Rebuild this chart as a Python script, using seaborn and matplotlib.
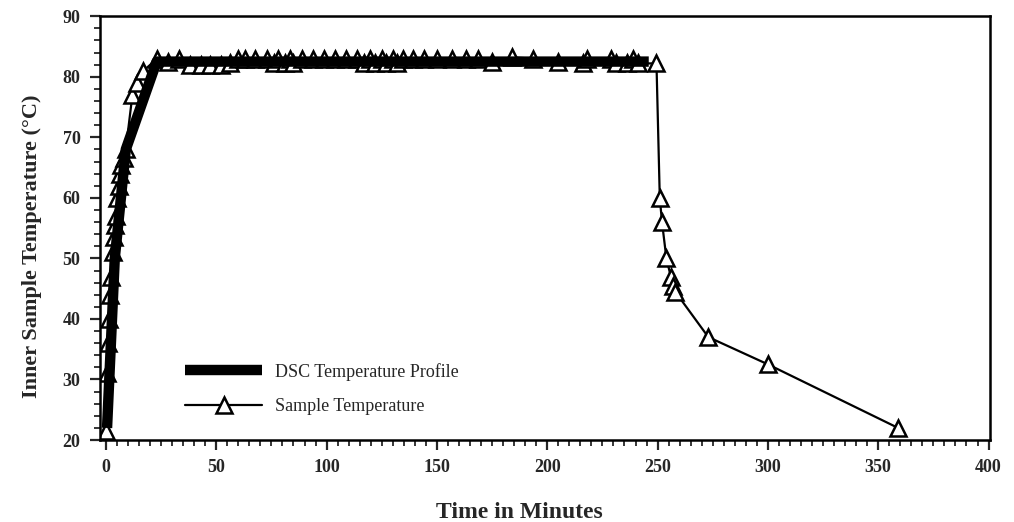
import matplotlib
matplotlib.use("Agg")
import matplotlib.pyplot as plt
import seaborn as sns
import pandas as pd
from matplotlib.ticker import MultipleLocator

# DSC temperature profile (thick line)
dsc_time = [0.5, 4, 9, 23, 246]
dsc_temp = [22, 50, 68, 82.5, 82.5]

# Sample temperature (triangles)
sample_time = [0, 0.5, 1, 1.5, 2, 2.5, 3, 3.5, 4, 4.5, 5, 6, 6.5, 7, 8, 9,
               12, 14, 17, 23, 28, 33, 38, 43, 47, 52, 56, 60, 63, 67.5,
               73, 76, 78, 81, 83.4, 85, 89, 94, 99, 104, 109, 114, 117,
               119.6, 122, 125, 127, 130, 132, 134.5, 139, 144, 150, 157,
               163, 168.5, 175, 184, 193.5, 205, 216, 218, 229, 231, 236,
               239, 241, 249.5,
               251, 252, 254, 256, 257, 258, 273, 300, 359]
sample_temp = [21.5, 31, 36, 40, 44, 47, 51, 53.5, 55.5, 57, 60, 62, 64, 65.5, 66.5, 68,
               77, 79, 81, 82.9, 82.5, 82.9, 81.9, 81.9, 81.9, 81.9, 82.3, 82.9, 82.9, 82.9,
               82.9, 82.2, 82.9, 82.2, 82.9, 82.2, 82.9, 82.9, 82.9, 82.9, 82.9, 82.9, 82.2,
               82.9, 82.2, 82.9, 82.2, 82.9, 82.2, 82.9, 82.9, 82.9, 82.9, 82.9,
               82.9, 82.9, 82.5, 83.2, 83.0, 82.5, 82.2, 82.9, 82.9, 82.2, 82.2,
               82.9, 82.2, 82.2,
               60, 56, 50, 47, 45.5, 44.5, 37, 32.5, 22]

x_ticks = [0, 50, 100, 150, 200, 250, 300, 350, 400]
y_ticks = [20, 30, 40, 50, 60, 70, 80, 90]

sns.set_style("ticks")
plt.rcParams['font.family'] = ['Liberation Serif', 'DejaVu Serif']

fig = plt.figure(figsize=(10.14, 5.22), dpi=100)
ax = fig.add_axes([0.0986, 0.157, 0.8774, 0.812])

dsc = pd.DataFrame({"t": dsc_time, "T": dsc_temp})
smp = pd.DataFrame({"t": sample_time, "T": sample_temp})

sns.lineplot(data=smp, x="t", y="T", ax=ax, color="black", lw=1.6,
             sort=False, estimator=None, marker="^", markersize=11,
             markerfacecolor="white", markeredgecolor="black",
             markeredgewidth=1.8, label="Sample Temperature", zorder=2)
sns.lineplot(data=dsc, x="t", y="T", ax=ax, color="black", lw=7.5,
             sort=False, estimator=None, label="DSC Temperature Profile",
             solid_capstyle="butt", zorder=3)

ax.set_xlim(-2.7, 400.5)
ax.set_ylim(20, 90)
ax.set_xticks(x_ticks)
ax.set_yticks(y_ticks)
ax.xaxis.set_minor_locator(MultipleLocator(5))
ax.yaxis.set_minor_locator(MultipleLocator(2))
ax.tick_params(axis="both", which="major", length=7, width=1.6, direction="out",
               labelsize=13, pad=7)
ax.tick_params(axis="both", which="minor", length=4, width=1.3, direction="out")
for lab in ax.get_xticklabels() + ax.get_yticklabels():
    lab.set_fontweight("bold")
for sp in ax.spines.values():
    sp.set_linewidth(1.8)
    sp.set_color("black")

ax.set_xlabel("Time in Minutes", fontsize=17, fontweight="bold")
ax.set_ylabel("Inner Sample Temperature (°C)", fontsize=16, fontweight="bold")
ax.xaxis.set_label_coords(0.471, -0.146)
ax.yaxis.set_label_coords(-0.065, 0.458)

handles, labels = ax.get_legend_handles_labels()
order = [labels.index("DSC Temperature Profile"), labels.index("Sample Temperature")]
leg = ax.legend([handles[i] for i in order], [labels[i] for i in order],
                loc="lower left", bbox_to_anchor=(0.077, 0.021), frameon=False,
                fontsize=13, handlelength=4.3, labelspacing=0.95,
                handletextpad=0.7)

fig.savefig("out.png", dpi=100)
